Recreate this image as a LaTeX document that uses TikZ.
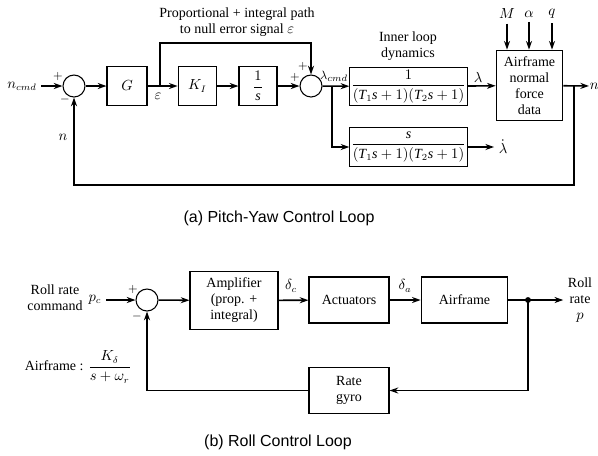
\documentclass[tikz,border=0pt]{standalone}
\usepackage{amsmath}
\usepackage{fontspec}
\setmainfont{Liberation Serif}
\newfontfamily\capfont{Liberation Sans}
\usetikzlibrary{positioning, arrows.meta}

\begin{document}
\begin{tikzpicture}[x=0.75pt, y=-0.75pt, >={Stealth[length=6.5pt,width=4.5pt]},
  font=\fontsize{10.5}{12}\selectfont,
  blk/.style = {draw, line width=0.8pt, align=center, inner sep=2pt},
  sum/.style = {draw, circle, line width=0.8pt, minimum size=16.5pt, inner sep=0pt},
  sig/.style = {line width=1.2pt},
  sgn/.style = {inner sep=0pt, font=\fontsize{9}{9}\selectfont},
  tf/.style = {inner sep=1pt},
  ttl/.style = {font=\capfont\fontsize{12}{14}\selectfont}]
  \useasboundingbox (0,0) rectangle (598,455);

  % (a) pitch-yaw loop
  \node (ncmd) at (22,86) {$n_{cmd}$};
  \node[sum] (sum1) at (74,86) {};
  \node[sgn] at (58,76) {$+$};
  \node[sgn] at (65,99) {$-$};
  \node[blk, minimum width=30pt, minimum height=29pt] (g) at (127,86) {$G$};
  \node[blk, minimum width=29pt, minimum height=29pt] (ki) at (197.5,86) {$K_I$};
  \node[blk, tf, minimum width=28.5pt, minimum height=29pt] (integ) at (258,86) {$\dfrac{1}{\textit{s}}$};
  \node[sum] (sum2) at (311,86) {};
  \node[sgn] at (295,77) {$+$};
  \node[sgn] at (303,66) {$+$};
  \node[blk, tf, minimum width=83pt, minimum height=29pt] (lag) at (408.5,86.5)
    {$\dfrac{1}{(\textit{T}_1\textit{s}+1)(\textit{T}_2\textit{s}+1)}$};
  \node[blk, tf, minimum width=83pt, minimum height=29pt] (lead) at (408.5,147)
    {$\dfrac{\textit{s}}{(\textit{T}_1\textit{s}+1)(\textit{T}_2\textit{s}+1)}$};
  \node[align=center] (inner) at (408,46) {Inner loop\\dynamics};
  \node[blk, minimum width=50pt, minimum height=53pt] (air) at (529.5,85.5) {Airframe\\normal\\force\\data};
  \node (m) at (507,14) {$M$};
  \node (al) at (529,14) {$\alpha$};
  \node (q) at (552,14) {$q$};
  \node[align=center] (note) at (237,22) {Proportional + integral path\\to null error signal $\varepsilon$};
  \node (eps) at (158,96) {$\varepsilon$};
  \node[font=\fontsize{9.5}{10}\selectfont] (lcmdl) at (334,76) {$\lambda_{cmd}$};
  \node (lam) at (478,77) {$\lambda$};
  \node (ldot) at (503,147) {$\dot{\lambda}$};
  \node[anchor=west, inner sep=0.5pt] (nout) at (589,86) {$n$};
  \node (nfb) at (63,137) {$n$};

  \coordinate (pe) at (160,86);
  \coordinate (petop) at (160,43);
  \coordinate (pl) at (332,86);
  \coordinate (pn) at (574,86);
  \coordinate (pnbot) at (574,185);

  \draw[sig, ->] (ncmd) -- (sum1);
  \draw[sig, ->] (sum1) -- (g);
  \draw[sig, ->] (g) -- (ki);
  \draw[sig, ->] (ki) -- (integ);
  \draw[sig, ->] (integ) -- (sum2);
  \draw[sig, ->] (sum2) -- (lag);
  \draw[sig, ->] (lag) -- (air);
  \draw[sig, ->] (pe) -- (petop) -| (sum2);
  \draw[sig, ->] (pl) |- (lead);
  \draw[sig, ->] (lead) -- (ldot);
  \draw[sig, ->] (air) -- (nout);
  \draw[sig, ->] (pn) -- (pnbot) -| (sum1);
  \draw[sig, ->] (m) -- (m |- air.north);
  \draw[sig, ->] (al) -- (al |- air.north);
  \draw[sig, ->] (q) -- (q |- air.north);

  \node[ttl] (capa) at (279,218) {(a) Pitch-Yaw Control Loop};

  % (b) roll loop
  \node[align=center] (cmdtxt) at (55,298) {Roll rate\\command};
  \node (pc) at (95,300) {$p_c$};
  \node[sum] (sum3) at (147,300) {};
  \node[sgn] at (133,289) {$+$};
  \node[sgn] at (137,316) {$-$};
  \node[blk, minimum width=66pt, minimum height=43pt] (amp) at (234,300.5) {Amplifier\\(prop. +\\integral)};
  \node[blk, minimum width=60pt, minimum height=34.5pt] (act) at (349,300) {Actuators};
  \node[blk, minimum width=65pt, minimum height=34.5pt] (air2) at (464.5,300) {Airframe};
  \node[blk, minimum width=60pt, minimum height=35pt] (gyro) at (349,390.5) {Rate\\gyro};
  \node (dc) at (291,286) {$\delta_c$};
  \node (da) at (405,286) {$\delta_a$};
  \node[align=center] (rollp) at (580,300) {Roll\\rate\\$p$};
  \node (afr) at (78,367) {Airframe : $\dfrac{K_\delta}{s+\omega_r}$};

  \coordinate (pp) at (528,300);
  \fill (pp) circle (2.2pt);

  \draw[sig, ->] (pc) -- (sum3);
  \draw[sig, ->] (sum3) -- (amp);
  \draw[sig, ->] (amp) -- (act);
  \draw[sig, ->] (act) -- (air2);
  \draw[sig, ->] (air2) -- (rollp);
  \draw[sig, ->] (pp) |- (gyro);
  \draw[sig, ->] (gyro) -| (sum3);

  \node[ttl] (capb) at (278,442) {(b) Roll Control Loop};
\end{tikzpicture}
\end{document}
